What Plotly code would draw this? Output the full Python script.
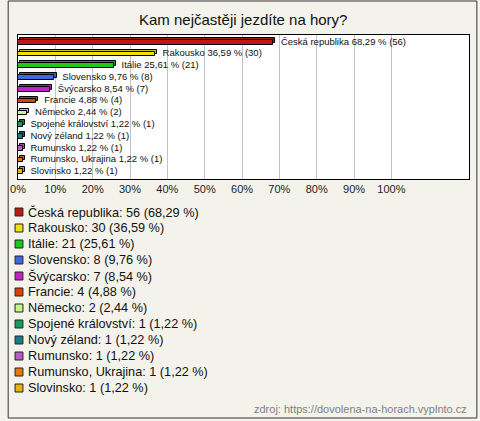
import plotly.graph_objects as go

categories = ["Česká republika", "Rakousko", "Itálie", "Slovensko", "Švýcarsko", "Francie",
              "Německo", "Spojené království", "Nový zéland", "Rumunsko", "Rumunsko, Ukrajina", "Slovinsko"]
counts = [56, 30, 21, 8, 7, 4, 2, 1, 1, 1, 1, 1]
percents = [68.29, 36.59, 25.61, 9.76, 8.54, 4.88, 2.44, 1.22, 1.22, 1.22, 1.22, 1.22]
colors = ["#bb1a10", "#f2e00c", "#1ec81e", "#3f68e0", "#c81ec8", "#e0400c",
          "#c8f58c", "#189a5a", "#1a7d8c", "#b45ec0", "#e8780c", "#e8b40c"]
tick_vals = [0, 10, 20, 30, 40, 50, 60, 70, 80, 90, 100]
tick_text = [f"{v}%" for v in tick_vals]
title = "Kam nejčastěji jezdíte na hory?"
source = "zdroj: https://dovolena-na-horach.vyplnto.cz"

W, H = 480, 421
L, R, T, B = 11, 470, 35, 179  # plot area in px


def fx(px):
    return (px - L) / (R - L)


def fy(py):
    return (B - py) / (B - T)


def fmt(p):
    return f"{p:.2f}".replace(".", ",")


def darker(hexc, f=0.7):
    h = hexc.lstrip("#")
    r, g, b = (int(h[i:i + 2], 16) for i in (0, 2, 4))
    return "#%02x%02x%02x" % (int(r * f), int(g * f), int(b * f))


fig = go.Figure()

# 3D top face (shadow) behind
fig.add_trace(go.Bar(
    y=categories, x=percents, base=[0.6] * len(percents), orientation="h",
    width=0.4, offset=-0.37,
    marker=dict(color=[darker(c, 0.85) for c in colors], line=dict(color="black", width=1)),
    hoverinfo="skip", showlegend=False,
))
# main bars
fig.add_trace(go.Bar(
    y=categories, x=percents, orientation="h",
    width=0.4, offset=-0.2,
    marker=dict(color=colors, line=dict(color="black", width=1)),
    showlegend=False,
))
# value labels
fig.add_trace(go.Scatter(
    y=categories, x=percents, mode="text",
    text=[f"\u00a0\u00a0\u00a0{c} {fmt(p)} % ({n})" for c, p, n in zip(categories, percents, counts)],
    textposition="middle right",
    textfont=dict(family="Liberation Sans", size=9.5, color="#111"),
    showlegend=False, hoverinfo="skip", cliponaxis=False,
))

shapes = [
    dict(type="rect", xref="paper", yref="paper", x0=fx(1), x1=fx(478), y0=fy(1), y1=fy(418),
         line=dict(color="#333", width=1), fillcolor="rgba(0,0,0,0)", layer="below"),
]
annotations = [
    dict(text=title, xref="paper", yref="paper", x=fx(240), y=fy(20), xanchor="center", yanchor="middle",
         showarrow=False, font=dict(family="Liberation Sans", size=15, color="#111")),
    dict(text=source, xref="paper", yref="paper", x=fx(470), y=fy(409), xanchor="right", yanchor="middle",
         showarrow=False, font=dict(family="Liberation Sans", size=11, color="#808080")),
]
for i, (c, n, p, col) in enumerate(zip(categories, counts, percents, colors)):
    cy = 212 + 16 * i
    shapes.append(dict(type="rect", xref="paper", yref="paper", x0=fx(8), x1=fx(16),
                       y0=fy(cy + 4), y1=fy(cy - 4), fillcolor=col, line=dict(color="#222", width=1)))
    annotations.append(dict(text=f"{c}: {n} ({fmt(p)} %)", xref="paper", yref="paper",
                            x=fx(19), y=fy(cy), xanchor="left", yanchor="middle", showarrow=False,
                            font=dict(family="Liberation Sans", size=12.7, color="#111")))

fig.update_layout(
    width=W, height=H,
    margin=dict(l=L, r=W - R, t=T, b=H - B, pad=0),
    paper_bgcolor="#f4f3eb", plot_bgcolor="white",
    bargap=0, barmode="overlay",
    xaxis=dict(range=[0, (R - L) / 38.0 * 10], tickvals=tick_vals, ticktext=tick_text,
               showgrid=True, gridcolor="#c4c4c4", gridwidth=1, zeroline=False,
               showline=True, linecolor="black", linewidth=1, mirror=True,
               ticks="", tickfont=dict(family="Liberation Sans", size=11, color="#222"),
               fixedrange=True),
    yaxis=dict(autorange="reversed", showticklabels=False, showgrid=False, zeroline=False,
               showline=True, linecolor="black", linewidth=1, mirror=True, ticks="",
               fixedrange=True),
    shapes=shapes, annotations=annotations,
    showlegend=False,
)

fig.write_html("out.html", config={"displayModeBar": False},
               post_script="document.body.style.margin='0';document.body.style.overflow='hidden';")
